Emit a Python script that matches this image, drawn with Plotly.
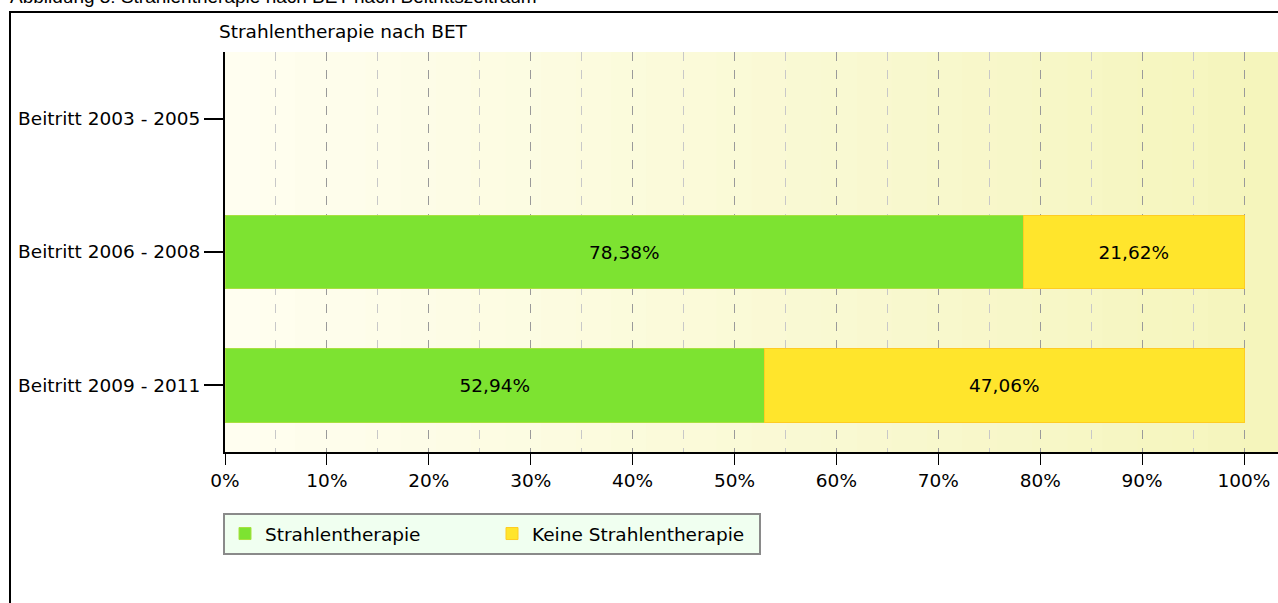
import plotly.graph_objects as go

categories = ["Beitritt 2003 - 2005", "Beitritt 2006 - 2008", "Beitritt 2009 - 2011"]
strahlen = [None, 78.38, 52.94]
keine = [None, 21.62, 47.06]
series_names = ["Strahlentherapie", "Keine Strahlentherapie"]
tick_vals = [0, 10, 20, 30, 40, 50, 60, 70, 80, 90, 100]
tick_text = [f"{v}%" for v in tick_vals]

W, H = 1278, 603
ML, MR, MT, MB = 225, 0, 52, 151
PW, PH = W - ML - MR, H - MT - MB
px100 = 1244 - 225  # pixels for 100 %

def px_to_paper_x(px):
    return (px - ML) / PW

def py_to_paper_y(py):
    return (H - MB - py) / PH

font = "DejaVu Sans"
fs = 18.5

fig = go.Figure()
fig.add_trace(go.Bar(
    y=categories, x=strahlen, orientation="h", name=series_names[0],
    marker=dict(color="#7DE331", line=dict(color="#A8E040", width=1)),
    texttemplate="%{x:.2f}%", textposition="inside", insidetextanchor="middle",
    textfont=dict(color="black", size=fs, family=font), width=0.55,
))
fig.add_trace(go.Bar(
    y=categories, x=keine, orientation="h", name=series_names[1],
    marker=dict(color="#FFE52C", line=dict(color="#FFCC22", width=1)),
    texttemplate="%{x:.2f}%", textposition="inside", insidetextanchor="middle",
    textfont=dict(color="black", size=fs, family=font), width=0.55,
))

# background gradient strips (light cream to pale yellow)
shapes = []
n = 30
c0 = (255, 254, 240)
c1 = (245, 245, 188)
for i in range(n):
    t = i / (n - 1)
    c = tuple(int(round(c0[k] + (c1[k] - c0[k]) * t)) for k in range(3))
    shapes.append(dict(type="rect", xref="paper", yref="paper",
                       x0=i / n, x1=(i + 1) / n + 0.001, y0=0, y1=1,
                       fillcolor=f"rgb{c}", line=dict(width=0), layer="below"))
# outer frame
shapes.append(dict(type="rect", xref="paper", yref="paper",
                   x0=px_to_paper_x(10), x1=px_to_paper_x(1290),
                   y0=py_to_paper_y(615), y1=py_to_paper_y(12),
                   line=dict(color="black", width=2), fillcolor="rgba(0,0,0,0)"))

fig.update_layout(
    width=W, height=H,
    margin=dict(l=ML, r=MR, t=MT, b=MB),
    paper_bgcolor="white", plot_bgcolor="#FBFADC",
    barmode="stack", separators=",.",
    showlegend=True,
    font=dict(family=font, size=fs, color="black"),
    shapes=shapes,
    legend=dict(orientation="h", x=px_to_paper_x(223), y=py_to_paper_y(513),
                xanchor="left", yanchor="top", bgcolor="#F0FFF0",
                bordercolor="#8A8A8A", borderwidth=2,
                font=dict(family=font, size=fs, color="black"),
                entrywidth=222, entrywidthmode="pixels", traceorder="normal"),
    annotations=[
        dict(text="Strahlentherapie nach BET", xref="paper", yref="paper",
             x=px_to_paper_x(217), y=py_to_paper_y(44), xanchor="left", yanchor="bottom",
             showarrow=False, font=dict(family=font, size=fs, color="black")),
        dict(text="Abbildung 3: Strahlentherapie nach BET nach Beitrittszeitraum", xref="paper", yref="paper",
             x=px_to_paper_x(8), y=py_to_paper_y(9), xanchor="left", yanchor="bottom",
             showarrow=False, font=dict(family="Liberation Sans", size=19, color="black")),
    ],
)
fig.update_xaxes(
    range=[0, PW / px100 * 100], tickvals=tick_vals, ticktext=tick_text,
    ticks="outside", ticklen=11, tickcolor="black", tickwidth=1,
    showline=True, linecolor="black", linewidth=2,
    showgrid=True, gridcolor="#9A9A9A", griddash="dash", gridwidth=1,
    minor=dict(dtick=5, tick0=5, showgrid=True, gridcolor="#C8C8C8", griddash="dash", ticks=""),
    zeroline=False, tickfont=dict(family=font, size=fs),
)
fig.update_yaxes(
    categoryorder="array", categoryarray=categories,
    ticks="outside", ticklen=19, tickcolor="black", tickwidth=2,
    showline=True, linecolor="black", linewidth=2, showgrid=False,
    tickfont=dict(family=font, size=fs),
)
fig.update_yaxes(autorange=None, range=[2.5, -0.5])

fig.write_html("out.html", config={"displayModeBar": False},
               post_script="document.body.style.margin='0';document.body.style.overflow='hidden';")
